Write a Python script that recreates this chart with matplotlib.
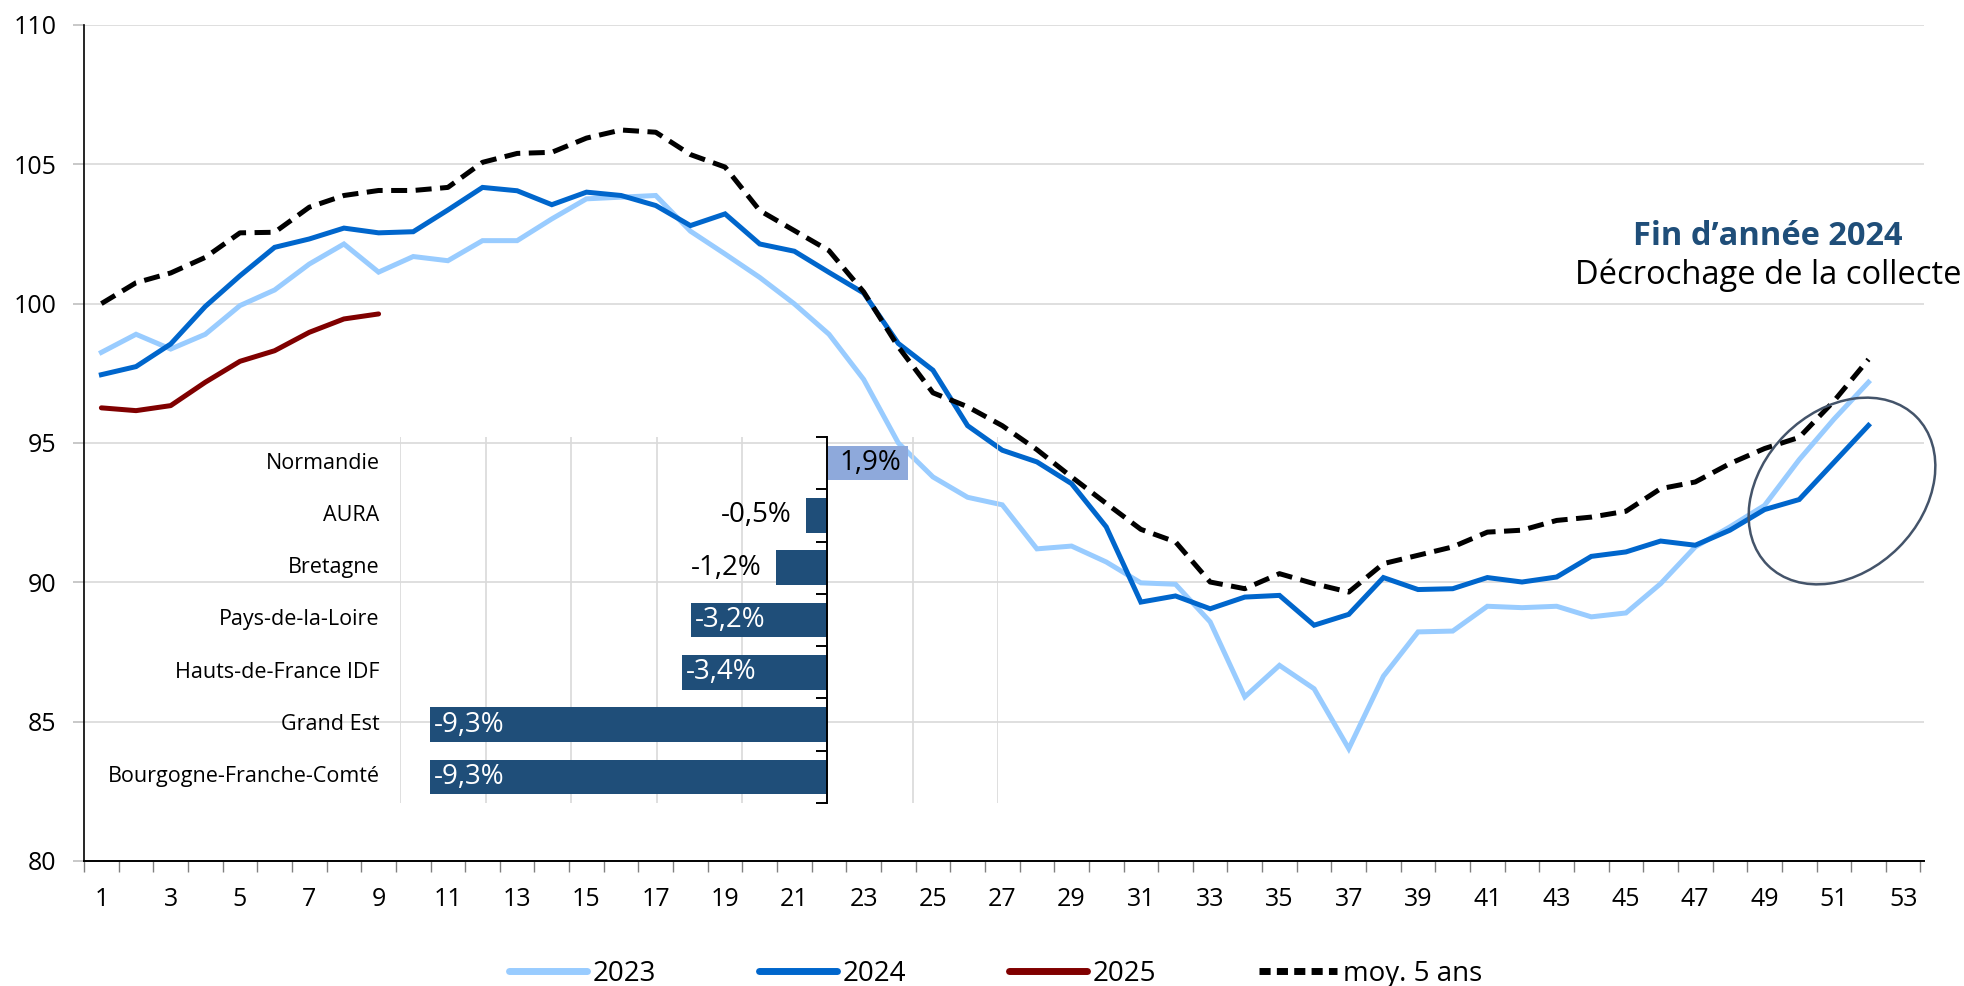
import matplotlib
matplotlib.use("Agg")
import matplotlib.pyplot as plt
import matplotlib.transforms as mtransforms
from matplotlib.patches import Ellipse
from matplotlib.lines import Line2D

plt.rcParams['font.family'] = ['Open Sans', 'DejaVu Sans']

# ---------------- data ----------------
weeks = list(range(1, 53))
s2023 = [98.25, 98.9, 98.37, 98.9, 99.93, 100.49, 101.42, 102.14, 101.13, 101.69,
         101.54, 102.26, 102.26, 103.04, 103.76, 103.82, 103.88, 102.6, 101.78, 100.94,
         99.99, 98.9, 97.28, 95.0, 93.78, 93.05, 92.78, 91.2, 91.3, 90.73,
         89.98, 89.93, 88.58, 85.89, 87.02, 86.18, 84.03, 86.63, 88.22, 88.25,
         89.14, 89.09, 89.14, 88.76, 88.9, 89.95, 91.27, 91.99, 92.76, 94.4,
         95.85, 97.18]
s2024 = [97.45, 97.74, 98.55, 99.9, 101.0, 102.02, 102.32, 102.71, 102.54, 102.58,
         103.36, 104.17, 104.05, 103.55, 104.0, 103.88, 103.52, 102.8, 103.22, 102.14,
         101.88, 101.12, 100.38, 98.57, 97.61, 95.62, 94.74, 94.32, 93.54, 91.99,
         89.29, 89.51, 89.05, 89.47, 89.53, 88.46, 88.85, 90.17, 89.74, 89.77,
         90.17, 90.01, 90.19, 90.93, 91.09, 91.48, 91.33, 91.87, 92.61, 92.97,
         94.3, 95.63]
s2025 = [96.26, 96.16, 96.34, 97.18, 97.93, 98.31, 98.97, 99.45, 99.63]
moy5 = [100.0, 100.75, 101.1, 101.66, 102.54, 102.56, 103.46, 103.88, 104.06, 104.06,
        104.17, 105.07, 105.39, 105.43, 105.94, 106.23, 106.15, 105.35, 104.9, 103.34,
        102.62, 101.9, 100.42, 98.45, 96.8, 96.3, 95.62, 94.76, 93.78, 92.83,
        91.9, 91.45, 90.01, 89.77, 90.31, 89.95, 89.65, 90.67, 90.97, 91.27,
        91.8, 91.87, 92.22, 92.34, 92.55, 93.36, 93.6, 94.26, 94.8, 95.2,
        96.5, 98.0]
x_tick_labels = list(range(1, 54, 2))
y_ticks = [80, 85, 90, 95, 100, 105, 110]

regions = ['Normandie', 'AURA', 'Bretagne', 'Pays-de-la-Loire',
           'Hauts-de-France IDF', 'Grand Est', 'Bourgogne-Franche-Comté']
changes = [1.9, -0.5, -1.2, -3.2, -3.4, -9.3, -9.3]

# ---------------- figure ----------------
fig = plt.figure(figsize=(19.64, 9.86), dpi=100)
ax = fig.add_axes([0.0428, 0.1268, 0.9368, 0.8479])

grid_c = '#D9D9D9'
ax.set_xlim(0.5, 53.6)
ax.set_ylim(80, 110)
ax.set_yticks(y_ticks)
ax.yaxis.grid(True, color=grid_c, lw=1.2)
ax.set_axisbelow(True)
for s in ['top', 'right']:
    ax.spines[s].set_visible(False)
ax.spines['left'].set_linewidth(1.2)
ax.spines['bottom'].set_linewidth(1.4)
ax.tick_params(axis='y', length=8, width=1.2, color='#BFBFBF', pad=12, labelsize=18)
ax.set_xticks(x_tick_labels)
ax.set_xticklabels([str(v) for v in x_tick_labels])
ax.set_xticks([w + 0.5 for w in range(0, 54)], minor=True)
ax.tick_params(axis='x', which='major', length=0, pad=19, labelsize=18)
ax.tick_params(axis='x', which='minor', length=8, width=1.0, color='#808080')

c23, c24, c25 = '#99CCFF', '#0066CC', '#800000'
lw = 3.6
ax.plot(weeks, s2023, color=c23, lw=lw, solid_joinstyle='miter', zorder=3)
ax.plot(weeks, s2024, color=c24, lw=lw, solid_joinstyle='miter', zorder=4)
ax.plot(weeks[:len(s2025)], s2025, color=c25, lw=lw, solid_capstyle='round', zorder=4)
ax.plot(weeks, moy5, color='black', lw=lw, dashes=(3.2, 1.7), zorder=5)

# legend
handles = [Line2D([], [], color=c23, lw=5, solid_capstyle='round'),
           Line2D([], [], color=c24, lw=5, solid_capstyle='round'),
           Line2D([], [], color=c25, lw=5, solid_capstyle='round'),
           Line2D([], [], color='black', lw=5, dashes=(1.6, 0.9))]
fig.legend(handles, ['2023', '2024', '2025', 'moy. 5 ans'], loc='center',
           bbox_to_anchor=(0.507, 0.012), ncol=4, frameon=False, fontsize=20,
           handlelength=2.8, handletextpad=0.22, columnspacing=3.7)

# annotation
fig.text(0.9002, 0.7597, 'Fin d\u2019année 2024', ha='center', va='center',
         fontsize=23.5, fontweight='bold', color='#1F4E79')
fig.text(0.9002, 0.7212, 'Décrochage de la collecte', ha='center', va='center',
         fontsize=23.5, color='black')
ell = Ellipse((18.42, 4.95), 2.10, 1.60, angle=45, transform=fig.dpi_scale_trans,
              fill=False, edgecolor='#44546A', lw=1.8, zorder=10)
fig.add_artist(ell)

# ---------------- inset bar chart ----------------
axi = fig.add_axes([0.2039, 0.1856, 0.3042, 0.3712], facecolor='none', zorder=6)
ypos = list(range(len(regions)))
colors = ['#8EA9DB' if v > 0 else '#1F4E79' for v in changes]
axi.barh(ypos, changes, height=0.66, color=colors, zorder=3)
axi.set_xlim(-10, 4)
axi.set_ylim(len(regions) - 0.5, -0.5)
axi.set_xticks([-10, -8, -6, -4, -2, 2, 4])
axi.xaxis.grid(True, color=grid_c, lw=1.2)
axi.tick_params(axis='x', length=0, labelbottom=False)
for s in ['top', 'right', 'bottom']:
    axi.spines[s].set_visible(False)
axi.spines['left'].set_position(('data', 0))
axi.spines['left'].set_linewidth(1.4)
axi.spines['left'].set_zorder(5)
axi.set_yticks(ypos)
axi.set_yticklabels([])
axi.tick_params(axis='y', which='major', length=0)
axi.set_yticks([i - 0.5 for i in range(len(regions) + 1)], minor=True)
axi.tick_params(axis='y', which='minor', length=8, width=1.4, direction='out')

trans = mtransforms.blended_transform_factory(axi.transAxes, axi.transData)
for i, name in enumerate(regions):
    axi.text(-0.035, i, name, transform=trans, ha='right', va='center', fontsize=15.5)

for i, v in enumerate(changes):
    lab = ('%.1f%%' % v).replace('.', ',')
    if v > 0:
        off = mtransforms.offset_copy(axi.transData, fig=fig, x=-7, y=0, units='dots')
        axi.text(v, i, lab, ha='right', va='center', fontsize=20, color='black',
                 transform=off, zorder=6)
    elif abs(v) < 2:
        off = mtransforms.offset_copy(axi.transData, fig=fig, x=-14, y=0, units='dots')
        axi.text(v, i, lab, ha='right', va='center', fontsize=20, color='black',
                 transform=off, zorder=6)
    else:
        off = mtransforms.offset_copy(axi.transData, fig=fig, x=4, y=0, units='dots')
        axi.text(v, i, lab, ha='left', va='center', fontsize=20, color='white',
                 transform=off, zorder=6)

fig.savefig('out.png', dpi=100)
